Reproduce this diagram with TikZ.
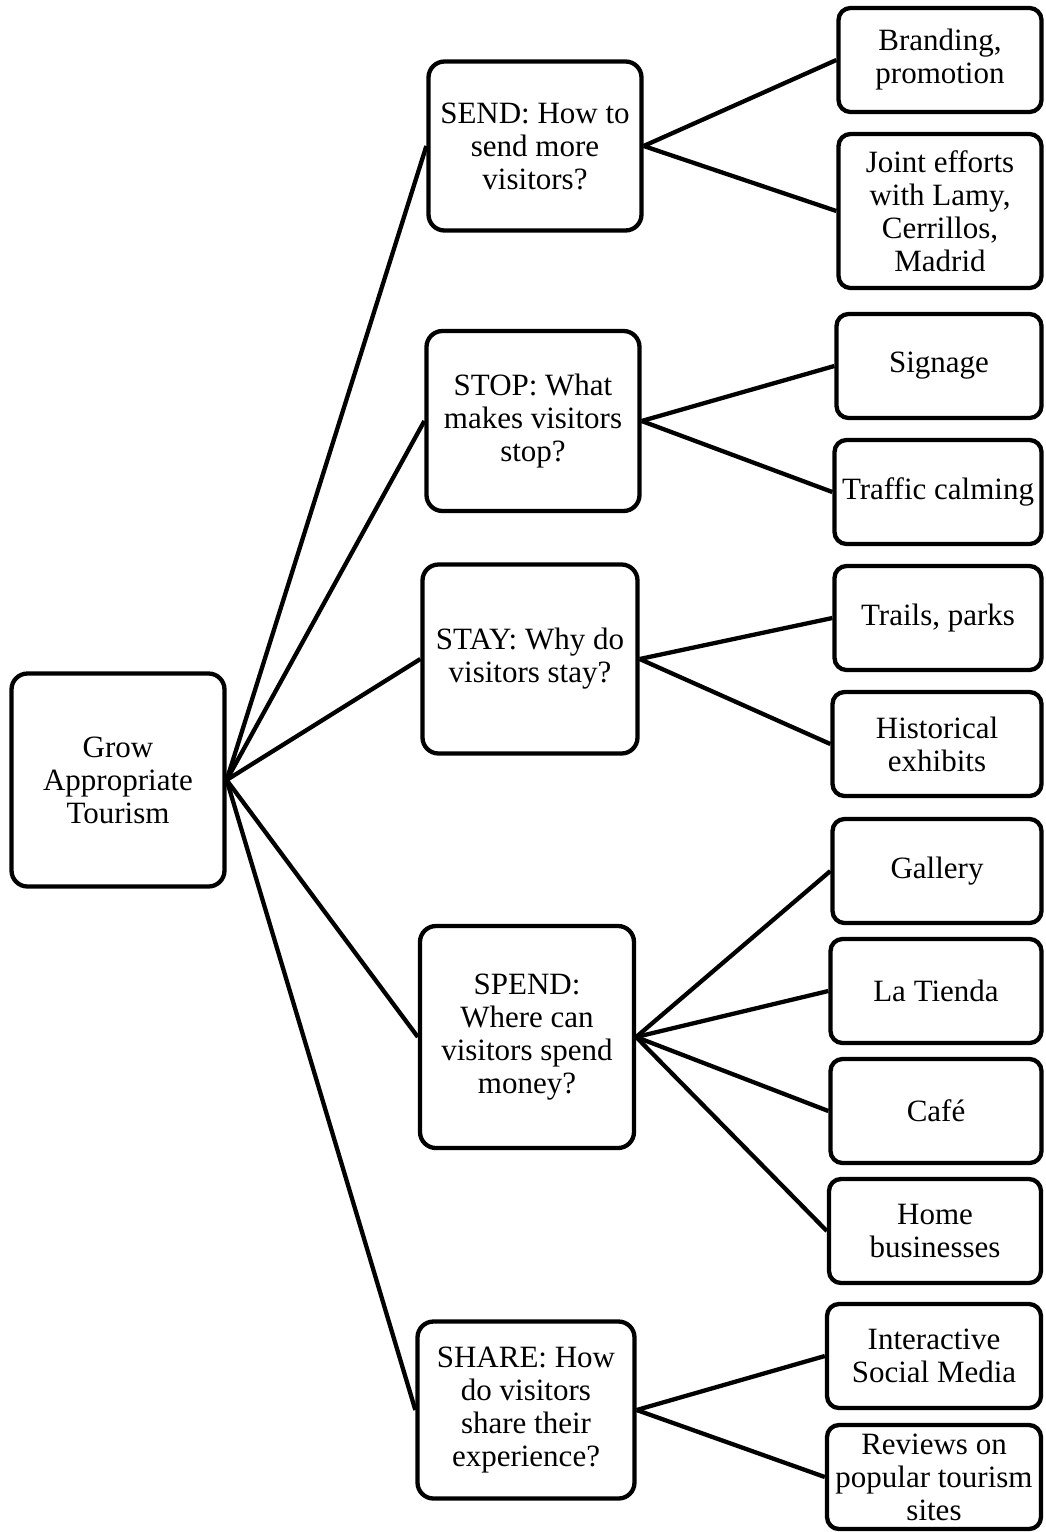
\documentclass[tikz,border=0pt]{standalone}
\usepackage{fontspec}
\setmainfont{Liberation Serif}
\begin{document}
\begin{tikzpicture}[x=1pt,y=-1pt,
        box/.style={draw, line width=4.3pt, rounded corners=16pt, align=center,
            inner sep=0pt, font=\fontsize{31}{33}\selectfont},
        leaf/.style={box, rounded corners=12pt, minimum height=104pt},
        link/.style={line width=4.3pt}]
        \useasboundingbox (0,0) rectangle (1045,1532);

        \node[box, minimum width=213pt, minimum height=213pt] (root) at (118,780) {Grow\\Appropriate\\Tourism};

        \node[box, minimum width=213pt, minimum height=169pt] (send) at (535,146) {SEND: How to\\send more\\visitors?};
        \node[box, minimum width=213pt, minimum height=180pt] (stop) at (533,421) {STOP: What\\makes visitors\\stop?};
        \node[box, minimum width=215pt, minimum height=189pt] (stay) at (530,659) {STAY: Why do\\visitors stay?};
        \node[box, minimum width=214pt, minimum height=222pt] (spend) at (527,1037) {SPEND:\\Where can\\visitors spend\\money?};
        \node[box, minimum width=217pt, minimum height=177pt] (share) at (526,1410) {SHARE: How\\do visitors\\share their\\experience?};

        \node[leaf, minimum width=203pt] (brand) at (940,60) {Branding,\\promotion};
        \node[leaf, minimum width=203pt, minimum height=154pt] (joint) at (940,211) {Joint efforts\\with Lamy,\\Cerrillos,\\Madrid};
        \node[leaf, minimum width=205pt] (sign) at (939,366) {Signage};
        \node[leaf, minimum width=207pt] (calm) at (938,492) {Traffic calming};
        \node[leaf, minimum width=207pt] (trail) at (938,618) {Trails, parks};
        \node[leaf, minimum width=209pt] (hist) at (937,744) {Historical\\exhibits};
        \node[leaf, minimum width=209pt] (gall) at (937,871) {Gallery};
        \node[leaf, minimum width=211pt] (tienda) at (936,991) {La Tienda};
        \node[leaf, minimum width=211pt] (cafe) at (936,1111) {Café};
        \node[leaf, minimum width=212pt] (home) at (935,1231) {Home\\businesses};
        \node[leaf, minimum width=214pt] (social) at (934,1356) {Interactive\\Social Media};
        \node[leaf, minimum width=214pt] (review) at (934,1477) {Reviews on\\popular tourism\\sites};

        \foreach \m in {send,stop,stay,spend,share}
            \draw[link] (root.east) -- (\m.west);

        \draw[link] (send.east) -- (brand.west);
        \draw[link] (send.east) -- (joint.west);
        \draw[link] (stop.east) -- (sign.west);
        \draw[link] (stop.east) -- (calm.west);
        \draw[link] (stay.east) -- (trail.west);
        \draw[link] (stay.east) -- (hist.west);
        \foreach \l in {gall,tienda,cafe,home}
            \draw[link] (spend.east) -- (\l.west);
        \draw[link] (share.east) -- (social.west);
        \draw[link] (share.east) -- (review.west);
    \end{tikzpicture}
\end{document}
